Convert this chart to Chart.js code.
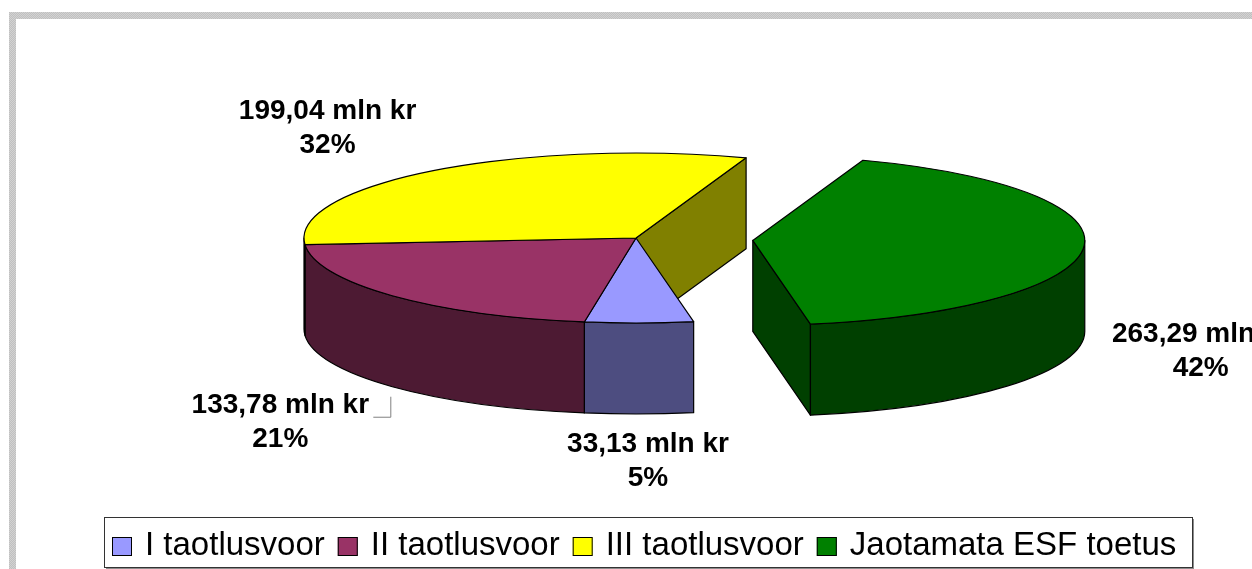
<!DOCTYPE html>
<html>
<head>
<meta charset="utf-8">
<script src="https://cdn.jsdelivr.net/npm/chart.js@4.4.1/dist/chart.umd.min.js"></script>
<style>
    html, body { margin: 0; padding: 0; background: #fff; }
    #chart-container { width: 1252px; height: 569px; }
</style>
</head>
<body>
<div id="chart-container"><canvas id="esfChart" width="1252" height="569"></canvas></div>
<script>
// ESF toetuse jaotus taotlusvoorude kaupa (mln kr)
const categories = ['I taotlusvoor', 'II taotlusvoor', 'III taotlusvoor', 'Jaotamata ESF toetus'];
const amounts = [33.13, 133.78, 199.04, 263.29];
const unitLabel = 'mln kr';

const topColors = ['#9999ff', '#993366', '#ffff00', '#008000'];
const sideColors = ['#4d4d80', '#4d1a33', '#808000', '#004000'];

const ASPECT = 332 / 85;   // ellipse width / height
const DEPTH = 91;          // height of the pie side

function sliceGeom(chart) {
    const meta = chart.getDatasetMeta(0);
    return meta.data.map((arc, i) => {
        const mid = (arc.startAngle + arc.endAngle) / 2;
        const off = arc.options.offset || 0;
        const ry = arc.outerRadius;
        return {
            i: i, s: arc.startAngle, e: arc.endAngle, mid: mid, off: off,
            rx: ry * ASPECT, ry: ry,
            cx: arc.x + Math.cos(mid) * off * ASPECT,
            cy: arc.y + Math.sin(mid) * off
        };
    });
}

function paint(ctx, color) {
    ctx.fillStyle = color;
    ctx.fill();
    ctx.stroke();
}

function drawFace(ctx, p, a, color) {
    const x = p.cx + p.rx * Math.cos(a), y = p.cy + p.ry * Math.sin(a);
    ctx.beginPath();
    ctx.moveTo(p.cx, p.cy);
    ctx.lineTo(x, y);
    ctx.lineTo(x, y + DEPTH);
    ctx.lineTo(p.cx, p.cy + DEPTH);
    ctx.closePath();
    paint(ctx, color);
}

function drawWalls(ctx, p, color) {
    for (let k = -1; k <= 2; k++) {
        const a = Math.max(p.s, 2 * Math.PI * k);
        const b = Math.min(p.e, 2 * Math.PI * k + Math.PI);
        if (b <= a) continue;
        ctx.beginPath();
        ctx.ellipse(p.cx, p.cy, p.rx, p.ry, 0, a, b);
        ctx.ellipse(p.cx, p.cy + DEPTH, p.rx, p.ry, 0, b, a, true);
        ctx.closePath();
        paint(ctx, color);
    }
}

const pie3d = {
    id: 'pie3d',
    beforeDraw(chart) {
        const ctx = chart.ctx;
        // grey frame of the original sheet
        const pc = document.createElement('canvas');
        pc.width = 2; pc.height = 2;
        const pctx = pc.getContext('2d');
        pctx.fillStyle = '#c0c0c0'; pctx.fillRect(0, 0, 2, 2);
        pctx.fillStyle = '#d2d2d2'; pctx.fillRect(0, 0, 1, 1); pctx.fillRect(1, 1, 1, 1);
        ctx.save();
        ctx.fillStyle = ctx.createPattern(pc, 'repeat');
        ctx.fillRect(9, 12, chart.width - 9, 7);
        ctx.fillRect(9, 12, 7, chart.height - 12);
        ctx.restore();
    },
    beforeDatasetsDraw(chart) {
        const ctx = chart.ctx;
        const g = sliceGeom(chart);
        const n = g.length;
        ctx.save();
        ctx.lineWidth = 1.2;
        ctx.strokeStyle = '#000';
        ctx.lineJoin = 'round';

        // cut faces, only where the pie is split open
        g.forEach((p, i) => {
            const prev = g[(i - 1 + n) % n], next = g[(i + 1) % n];
            if ((p.off || prev.off) && Math.cos(p.s) < 0) drawFace(ctx, p, p.s, sideColors[i]);
            if ((p.off || next.off) && Math.cos(p.e) > 0) drawFace(ctx, p, p.e, sideColors[i]);
        });
        g.forEach((p, i) => drawWalls(ctx, p, sideColors[i]));
        g.forEach((p, i) => {
            ctx.beginPath();
            ctx.moveTo(p.cx, p.cy);
            ctx.ellipse(p.cx, p.cy, p.rx, p.ry, 0, p.s, p.e);
            ctx.closePath();
            paint(ctx, topColors[i]);
        });
        ctx.restore();
        return false;
    },
    afterDraw(chart) {
        const ctx = chart.ctx;
        const g = sliceGeom(chart);
        const total = amounts.reduce((a, b) => a + b, 0);
        const labelNudge = [[9, 47], [-112, 36], [-106, -42], [117, 13]];

        ctx.save();
        ctx.fillStyle = '#000';
        ctx.font = 'bold 28px "Liberation Sans", Arial, sans-serif';
        ctx.textAlign = 'center';
        ctx.textBaseline = 'middle';
        g.forEach((p, i) => {
            const sin = Math.sin(p.mid);
            const ax = p.cx + p.rx * Math.cos(p.mid);
            const ay = p.cy + p.ry * sin + (sin > 0 ? DEPTH : 0);
            const lx = ax + labelNudge[i][0], ly = ay + labelNudge[i][1];
            const pct = Math.round(amounts[i] / total * 100);
            ctx.fillText(amounts[i].toFixed(2).replace('.', ',') + ' ' + unitLabel, lx, ly - 17);
            ctx.fillText(pct + '%', lx, ly + 17);
            if (i === 1) {
                ctx.strokeStyle = '#808080';
                ctx.lineWidth = 1;
                ctx.beginPath();
                ctx.moveTo(ax - 19, ay + 30.5);
                ctx.lineTo(ax - 1.5, ay + 30.5);
                ctx.lineTo(ax - 1.5, ay + 10);
                ctx.stroke();
            }
        });

        // legend
        const BOX = 20, GAP_TEXT = 13, GAP_ITEM = 13, PAD = 8;
        const left = 104, right = 1192, top = 517, h = 50;
        ctx.font = '33px "Liberation Sans", Arial, sans-serif';
        ctx.fillStyle = '#8c8c8c';
        ctx.fillRect(left + 2, top + 2, right - left, h);
        ctx.fillStyle = '#fff';
        ctx.fillRect(left, top, right - left, h);
        ctx.strokeStyle = '#333';
        ctx.lineWidth = 1;
        ctx.strokeRect(left + 0.5, top + 0.5, right - left, h);

        let x = left + PAD;
        ctx.textAlign = 'left';
        ctx.textBaseline = 'alphabetic';
        categories.forEach((c, i) => {
            ctx.fillStyle = topColors[i];
            ctx.fillRect(x, 537, BOX, BOX - 1);
            ctx.strokeStyle = '#000';
            ctx.strokeRect(x + 0.5, 537.5, BOX - 1, BOX - 2);
            x += BOX + GAP_TEXT;
            ctx.fillStyle = '#000';
            ctx.fillText(c, x, 555);
            x += ctx.measureText(c).width + GAP_ITEM;
        });
        ctx.restore();
    }
};

new Chart(document.getElementById('esfChart').getContext('2d'), {
    type: 'pie',
    data: {
        labels: categories,
        datasets: [{
            data: amounts,
            backgroundColor: topColors,
            offset: [0, 0, 0, 30],
            borderWidth: 0
        }]
    },
    options: {
        responsive: false,
        animation: false,
        devicePixelRatio: 1,
        rotation: 170,
        radius: 85,
        layout: { padding: { left: 20, right: 0, top: 0, bottom: 93 } },
        plugins: {
            legend: { display: false },
            tooltip: { enabled: false }
        }
    },
    plugins: [pie3d]
});
</script>
</body>
</html>
